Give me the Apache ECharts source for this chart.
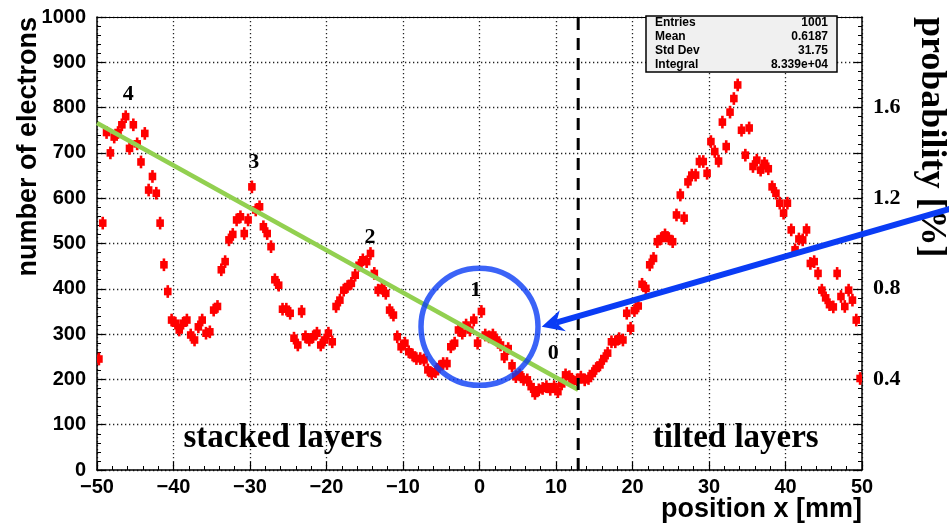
<!DOCTYPE html>
<html><head><meta charset="utf-8">
<script src="https://cdn.jsdelivr.net/npm/echarts@6/dist/echarts.min.js"></script>
<style>html,body{margin:0;padding:0;background:#fff}#c{width:949px;height:525px}</style>
</head><body><div id="c"></div>
<script>
// ---- data ----
const binStart = -49.75;   // centre of first bin [mm]
const binWidth = 0.5;      // bin width [mm]
const electrons = [
 245,545,745,700,735,745,762,780,710,762,720,680,743,618,648,611,545,453,394,331,
 324,309,324,331,298,287,316,331,302,305,353,361,442,460,508,520,552,559,522,552,
 625,574,581,537,522,493,420,408,355,355,346,291,276,350,294,287,294,302,276,287,
 302,283,361,375,397,405,412,430,452,464,460,478,434,397,401,390,353,342,294,272,
 280,261,254,246,246,243,221,213,217,228,235,235,272,280,309,302,320,309,331,280,
 350,298,294,298,287,276,250,268,230,206,210,200,199,184,169,177,180,184,178,184,
 173,190,210,206,196,199,205,199,202,213,224,232,246,258,283,283,290,287,346,313,
 352,362,410,401,453,467,504,511,519,511,504,563,607,556,636,651,651,681,681,655,
 725,703,682,768,714,790,820,850,750,695,755,670,684,662,677,665,625,611,589,567,
 589,530,486,510,508,530,456,460,434,397,380,365,360,434,383,361,397,375,331,202
];
const errHalf = 14;
const xTicks = [-50,-40,-30,-20,-10,0,10,20,30,40,50];
const rightLabels = [0.4,0.8,1.2,1.6];
const greenLineX = [-50, 12.9];
const greenLineY = [766, 177];
const dashedX = 12.9;
const circleCenter = [0, 316];
const arrowFrom = [62.8, 583];
const arrowTo = [8.13, 316];
const peakNames = ['4','3','2','1','0'];
const peakX = [-45.9, -29.5, -14.3, -0.5, 9.65];
const peakY = [830, 680, 514, 397, 258];
const regionNames = ['stacked layers','tilted layers'];
const regionX = [-25.7, 33.5];
const regionY = [70];
const statNames = ['Entries','Mean','Std Dev','Integral'];
const statValues = ['1001','0.6187','31.75','8.339e+04'];

const points = electrons.map((v,i)=>[binStart + i*binWidth, v]);

const chart = echarts.init(document.getElementById('c'), null, {renderer:'canvas'});
const sans = 'Liberation Sans, Arial, Helvetica, sans-serif';
const serif = 'Liberation Serif, Times New Roman, serif';
const dotted = {color:'#222', width:1.3, type:[1.3,2.7]};
const blue = '#0a3cf5';

chart.setOption({
  animation:false,
  backgroundColor:'#fff',
  grid:{left:97, right:87, top:17, bottom:55, containLabel:false},
  xAxis:[{
    type:'value', min:-50, max:50, interval:10,
    axisLine:{show:true, onZero:false, lineStyle:{color:'#000', width:1.5}},
    axisTick:{inside:true, length:8, lineStyle:{color:'#000', width:1.2}},
    minorTick:{show:true, splitNumber:5, length:4, lineStyle:{color:'#000', width:1}},
    splitLine:{show:true, lineStyle:dotted},
    axisLabel:{margin:7, fontFamily:sans, fontWeight:'bold', fontSize:20, color:'#000',
      showMinLabel:true, showMaxLabel:true,
      formatter:v=> (xTicks.includes(Math.round(v)) ? String(Math.round(v)).replace('-','\u2212') : '')}
  },{
    type:'value', position:'top', min:-50, max:50,
    axisLine:{show:true, onZero:false, lineStyle:{color:'#000', width:1.2}},
    axisTick:{show:false}, axisLabel:{show:false}, splitLine:{show:false}
  }],
  yAxis:[{
    type:'value', min:0, max:1000, interval:100,
    axisLine:{show:true, onZero:false, lineStyle:{color:'#000', width:1.5}},
    axisTick:{inside:true, length:8, lineStyle:{color:'#000', width:1.2}},
    minorTick:{show:true, splitNumber:5, length:4, lineStyle:{color:'#000', width:1}},
    splitLine:{show:true, lineStyle:dotted},
    axisLabel:{margin:11, fontFamily:sans, fontWeight:'bold', fontSize:20, color:'#000',
      formatter:v=>String(Math.round(v))}
  },{
    type:'value', position:'right', min:0, max:2, interval:0.2,
    axisLine:{show:true, onZero:false, lineStyle:{color:'#000', width:1.5}},
    axisTick:{inside:true, length:8, lineStyle:{color:'#000', width:1.2}},
    minorTick:{show:true, splitNumber:5, length:4, lineStyle:{color:'#000', width:1}},
    splitLine:{show:false},
    axisLabel:{margin:11, fontFamily:serif, fontWeight:'bold', fontSize:22, color:'#000',
      formatter:v=>{const r=Math.round(v*10)/10; return (rightLabels.includes(r) && Math.abs(v-r)<1e-6)? r.toFixed(1):'';}}
  }],
  series:[
    {
      type:'custom', name:'data', data:points, encode:{x:0,y:1}, z:2, clip:true,
      renderItem:(params, api)=>{
        const x=api.value(0), y=api.value(1);
        const p=api.coord([x,y]);
        const t=api.coord([x,y+errHalf]);
        const b=api.coord([x,y-errHalf]);
        return {type:'group', children:[
          {type:'line', shape:{x1:p[0],y1:t[1],x2:p[0],y2:b[1]}, style:{stroke:'#ff0000', lineWidth:2.6}},
          {type:'rect', shape:{x:p[0]-3.8,y:p[1]-3.8,width:7.6,height:7.6}, style:{fill:'#ff0000'}}
        ]};
      }
    },
    {
      type:'line', name:'fit', data:greenLineX.map((x,i)=>[x,greenLineY[i]]), symbol:'none', z:4,
      lineStyle:{color:'#92d050', width:4.5}, silent:true
    },
    {
      type:'line', name:'boundary', data:[[dashedX,0],[dashedX,1000]], symbol:'none', z:4,
      lineStyle:{color:'#000', width:3, type:[12,8]}, silent:true
    },
    {
      type:'scatter', name:'circle', data:[circleCenter], symbol:'circle', symbolSize:117, z:5,
      itemStyle:{color:'rgba(0,0,0,0)', borderColor:blue, borderWidth:5.5}, silent:true
    }
  ]
});

function px(pt){ return chart.convertToPixel({gridIndex:0}, pt); }

const g = [];
// arrow
(function(){
  const p0 = px(arrowFrom), p1 = px(arrowTo);
  const dx = p1[0]-p0[0], dy = p1[1]-p0[1], len = Math.hypot(dx,dy);
  const ux = dx/len, uy = dy/len, nx = -uy, ny = ux;
  const L = 22, W = 11, notch = 7;
  const bx = p1[0]-ux*L, by = p1[1]-uy*L;
  const mx = p1[0]-ux*(L-notch), my = p1[1]-uy*(L-notch);
  g.push({type:'line', shape:{x1:p0[0],y1:p0[1],x2:mx,y2:my}, style:{stroke:blue, lineWidth:6}, z:10});
  g.push({type:'polygon', shape:{points:[[p1[0],p1[1]],[bx+nx*W,by+ny*W],[mx,my],[bx-nx*W,by-ny*W]]}, style:{fill:blue}, z:10});
})();
// peak numbers
peakNames.forEach((t,i)=>{
  const p = px([peakX[i], peakY[i]]);
  g.push({type:'text', x:p[0], y:p[1], z:11, style:{text:t, font:'bold 22px '+serif, fill:'#000', align:'center', verticalAlign:'middle'}});
});
// region names
regionNames.forEach((t,i)=>{
  const p = px([regionX[i], regionY[0]]);
  g.push({type:'text', x:p[0], y:p[1], z:11, style:{text:t, font:'bold 33px '+serif, fill:'#000', align:'center', verticalAlign:'middle'}});
});
// axis titles
g.push({type:'text', x:29, y:17, rotation:Math.PI/2, z:11, style:{text:'number of electrons', font:'bold 27px '+sans, fill:'#000', align:'right', verticalAlign:'middle'}});
g.push({type:'text', x:862, y:510, z:11, style:{text:'position x [mm]', font:'bold 27px '+sans, fill:'#000', align:'right', verticalAlign:'middle'}});
g.push({type:'text', x:931, y:17, rotation:-Math.PI/2, z:9, style:{text:'probability [%]', font:'bold 36px '+serif, fill:'#000', align:'left', verticalAlign:'middle'}});
// stats box
const sx=646, sy=16, sw=191, sh=56;
g.push({type:'rect', shape:{x:sx,y:sy,width:sw,height:sh}, style:{fill:'#f0f0f0', stroke:'#000', lineWidth:1.5}, z:12});
statNames.forEach((t,i)=>{
  const yy = sy+7+i*14;
  g.push({type:'text', x:sx+9, y:yy, z:13, style:{text:t, font:'bold 12px '+sans, fill:'#000', align:'left', verticalAlign:'middle'}});
  g.push({type:'text', x:sx+sw-9, y:yy, z:13, style:{text:statValues[i], font:'bold 12px '+sans, fill:'#000', align:'right', verticalAlign:'middle'}});
});
chart.setOption({graphic:g});
</script>
</body></html>
